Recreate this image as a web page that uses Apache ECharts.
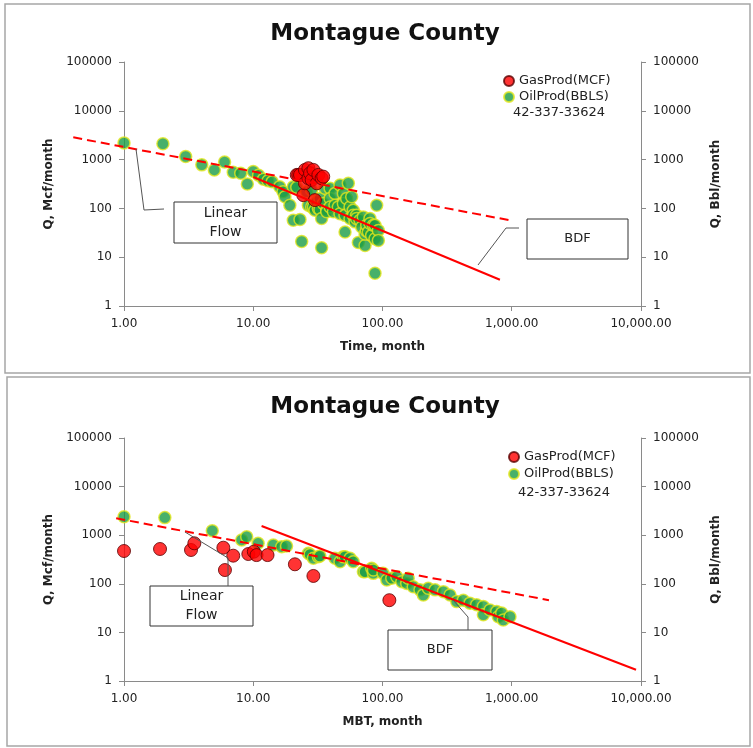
<!DOCTYPE html>
<html>
<head>
<meta charset="utf-8">
<script src="https://cdn.jsdelivr.net/npm/echarts@6/dist/echarts.min.js"></script>
<style>html,body{margin:0;padding:0;background:#fff}#c{width:753px;height:748px}</style>
</head>
<body>
<div id="c"></div>
<script>
// ---- Top panel (Time) ----
const topOilTime = [1,2,3,4,5,6,7,8,9,10,11,12,13,14,16,17,17.6,19.2,20.4,20.4,21.7,23,23.7,25.9,26.7,28.3,28.3,29.2,30,30.9,31.9,32.8,32.8,33.8,33.8,34.8,35.9,37,37,39.3,39.3,39.3,41.7,42.9,42.9,45.5,46.9,46.9,49.8,49.8,51.3,51.3,52.8,54.4,56.1,56.1,57.8,59.4,59.4,61.3,63,63,65,67,69,71,73.3,73.3,75,75.5,77.7,80,80,82.4,84.9,87.5,87.5,87.5,90.2,92.9,92.9];
const topOilRate = [2200,2120,1160,780,615,890,550,525,316,570,480,395,370,350,278,219,173,116,278,57,270,59,21,219,116,238,107,107,92,136,99.5,160,95,62,15.6,126,258,92,85,258,160,107,85,203,116,107,301,78,203,126,72,32.7,160,327,107,62,173,92,72,53,72,62,20,57,41.5,67,17.4,30,35,45,32.7,62,49,28,45,23.9,45,4.7,116,35.4,22];
const topGasTime = [21.7,22.3,23,24.4,25.1,25.1,26.7,26.7,27.5,28.3,29.2,30,31,31.9,33.8,34.8];
const topGasRate = [486,486,486,187,615,327,667,415,525,383,615,148,327,486,415,448];
const topDashX = [0.405, 970];
const topDashY = [2860, 57];
const topSolidX = [10, 810];
const topSolidY = [440, 3.45];

// ---- Bottom panel (MBT) ----
const botOilMBT = [1,2.07,4.82,8.14,8.9,10.9,14.3,16.6,18.1,26.7,27.5,29.2,31.9,32.8,42.9,46.9,49.8,51.3,56.1,59.4,71.1,73.3,82.5,84.9,84.9,101,108,118,129,141,154,158,173,195,207,226,255,296,333,375,422,475,535,603,603,679,765,787,836,860,969];
const botOilRate = [2400,2300,1240,800,930,680,628,580,600,424,400,335,362,373,335,285,362,361,335,285,177,177,208,164,192,164,120,130,140,110,102,130,87,75,59,81,75,69,59,43,46,40,37,34,23,29,27,21,25,18,21];
const botGasMBT = [1,1.9,3.3,3.5,5.87,6.04,7.0,9.16,10.1,10.6,12.9,21,29.2,113];
const botGasRate = [473,520,496,681,553,192,379,410,458,390,390,252,145,46];
const botDashX = [0.87, 1940];
const botDashY = [2230, 46];
const botSolidX = [11.6, 9150];
const botSolidY = [1550, 1.7];

const titleText = 'Montague County';
const gasName = 'GasProd(MCF)';
const oilName = 'OilProd(BBLS)';
const wellId = '42-337-33624';

const zip = (a, b) => a.map((v, i) => [v, b[i]]);
const FONT = 'DejaVu Sans';
const gasStyle = { color: '#ff0000', borderColor: '#5a0000', borderWidth: 1 };
const oilStyle = { color: '#1a9c45', borderColor: '#e2e61e', borderWidth: 1.5 };

const xFmt = v => Number(v).toLocaleString('en-US', { minimumFractionDigits: 2, maximumFractionDigits: 2 });
const axisLineStyle = { lineStyle: { color: '#8a8a8a', width: 1 } };

function xAxis(gridIndex, name) {
  return {
    type: 'log', logBase: 10, gridIndex, min: 1, max: 10000,
    name, nameLocation: 'middle', nameGap: 35,
    nameTextStyle: { fontFamily: FONT, fontWeight: 'bold', fontSize: 12, color: '#222' },
    axisLine: axisLineStyle, axisTick: { show: true, length: 5, lineStyle: { color: '#8a8a8a' } },
    minorTick: { show: false }, splitLine: { show: false },
    axisLabel: { formatter: xFmt, fontFamily: FONT, fontSize: 12, color: '#222', margin: 12 }
  };
}
function yAxis(gridIndex, position, name, gap) {
  return {
    type: 'log', logBase: 10, gridIndex, min: 1, max: 100000, position,
    name, nameLocation: 'middle', nameGap: gap, nameRotate: 90,
    nameTextStyle: { fontFamily: FONT, fontWeight: 'bold', fontSize: 12, color: '#222' },
    axisLine: { show: true, onZero: false, lineStyle: { color: '#8a8a8a', width: 1 } },
    axisTick: { show: true, length: 5, lineStyle: { color: '#8a8a8a' } },
    splitLine: { show: false },
    axisLabel: { formatter: v => String(Math.round(v)), fontFamily: FONT, fontSize: 12, color: '#222', margin: 12 }
  };
}
function scatter(name, data, xi, yi, style, size) {
  return { type: 'scatter', name, xAxisIndex: xi, yAxisIndex: yi, data, symbol: 'circle', symbolSize: size, itemStyle: style };
}
// Power-law trend line (straight in log-log). Anchors are mapped through the
// axes with api.coord and the segment is extended in log space beyond the axis minimum.
function trend(xs, ys, xi, yi, dashed) {
  return {
    type: 'custom', xAxisIndex: xi, yAxisIndex: yi, clip: false, silent: true, z: 5,
    encode: { x: [0, 2], y: [1, 3] },
    data: [[xs[0], ys[0], xs[1], ys[1]]],
    renderItem: function (params, api) {
      const L = Math.log10;
      const x0 = api.value(0), y0 = api.value(1), x1 = api.value(2), y1 = api.value(3);
      const lx0 = L(x0), ly0 = L(y0), lx1 = L(x1), ly1 = L(y1);
      const at = t => [Math.pow(10, lx0 + (lx1 - lx0) * t), Math.pow(10, ly0 + (ly1 - ly0) * t)];
      const ta = x0 < 1 ? (0 - lx0) / (lx1 - lx0) : 0;
      const pa = api.coord(at(ta)), pb = api.coord(at(1));
      const k = (0 - ta) / (1 - ta);
      const p0 = [pa[0] + (pb[0] - pa[0]) * k, pa[1] + (pb[1] - pa[1]) * k];
      return {
        type: 'line', shape: { x1: p0[0], y1: p0[1], x2: pb[0], y2: pb[1] },
        style: { stroke: '#ff0000', lineWidth: 2, lineDash: dashed ? [9, 5] : null }
      };
    }
  };
}
function box(x, y, w, h, lines, fs) {
  return {
    type: 'group', z: 100, children: [
      { type: 'rect', shape: { x, y, width: w, height: h }, style: { fill: '#fff', stroke: '#333', lineWidth: 1 } },
      { type: 'text', x: x + w / 2, y: y + h / 2, style: { text: lines, fontFamily: FONT, fontSize: fs, lineHeight: fs + 5, fill: '#222', align: 'center', verticalAlign: 'middle' } }
    ]
  };
}
function leader(points) {
  return { type: 'polyline', z: 99, shape: { points }, style: { stroke: '#555', lineWidth: 1, fill: null } };
}

const chart = echarts.init(document.getElementById('c'), null, { renderer: 'canvas' });
chart.setOption({
  backgroundColor: '#fff',
  animation: false,
  title: [
    { text: titleText, left: 380, top: 18, textAlign: 'center', textStyle: { fontFamily: FONT, fontWeight: 'bold', fontSize: 23, color: '#111' } },
    { text: titleText, left: 380, top: 391, textAlign: 'center', textStyle: { fontFamily: FONT, fontWeight: 'bold', fontSize: 23, color: '#111' } }
  ],
  legend: [
    { orient: 'vertical', left: 498, top: 69, itemWidth: 10, itemHeight: 10, itemGap: 2, data: [gasName, oilName], icon: 'circle',
      textStyle: { fontFamily: FONT, fontSize: 13, color: '#222', lineHeight: 14 } },
    { orient: 'vertical', left: 503, top: 445, itemWidth: 10, itemHeight: 10, itemGap: 3, data: [gasName, oilName], icon: 'circle',
      textStyle: { fontFamily: FONT, fontSize: 13, color: '#222', lineHeight: 14 } }
  ],
  grid: [
    { left: 124, width: 517, top: 62, height: 244 },
    { left: 124, width: 517, top: 438, height: 243 }
  ],
  xAxis: [xAxis(0, 'Time, month'), xAxis(1, 'MBT, month')],
  yAxis: [
    yAxis(0, 'left', 'Q, Mcf/month', 30), yAxis(0, 'right', 'Q, Bbl/month', 58),
    yAxis(1, 'left', 'Q, Mcf/month', 30), yAxis(1, 'right', 'Q, Bbl/month', 58)
  ],
  series: [
    scatter(oilName, zip(topOilTime, topOilRate), 0, 0, oilStyle, 12),
    scatter(gasName, zip(topGasTime, topGasRate), 0, 0, gasStyle, 13),
    trend(topDashX, topDashY, 0, 0, true),
    trend(topSolidX, topSolidY, 0, 0, false),
    scatter(oilName, zip(botOilMBT, botOilRate), 1, 2, oilStyle, 12),
    scatter(gasName, zip(botGasMBT, botGasRate), 1, 2, gasStyle, 13),
    trend(botDashX, botDashY, 1, 2, true),
    trend(botSolidX, botSolidY, 1, 2, false)
  ],
  graphic: [
    { type: 'rect', z: -1, shape: { x: 5, y: 4, width: 745, height: 369 }, style: { fill: null, stroke: '#a6a6a6', lineWidth: 1.5 } },
    { type: 'rect', z: -1, shape: { x: 7, y: 377, width: 743, height: 369 }, style: { fill: null, stroke: '#a6a6a6', lineWidth: 1.5 } },
    { type: 'text', left: 513, top: 106, style: { text: wellId, fontFamily: FONT, fontSize: 13, fill: '#222' } },
    { type: 'text', left: 518, top: 486, style: { text: wellId, fontFamily: FONT, fontSize: 13, fill: '#222' } },
    leader([[136, 149], [144, 210], [164, 209]]),
    box(174, 202, 103, 41, 'Linear\nFlow', 14),
    leader([[478, 265], [506, 228], [519, 228]]),
    box(527, 219, 101, 40, 'BDF', 13),
    leader([[185, 532], [228, 558], [228, 586]]),
    box(150, 586, 103, 40, 'Linear\nFlow', 14),
    leader([[453, 600], [468, 617], [468, 630]]),
    box(388, 630, 104, 40, 'BDF', 13)
  ]
});
</script>
</body>
</html>
